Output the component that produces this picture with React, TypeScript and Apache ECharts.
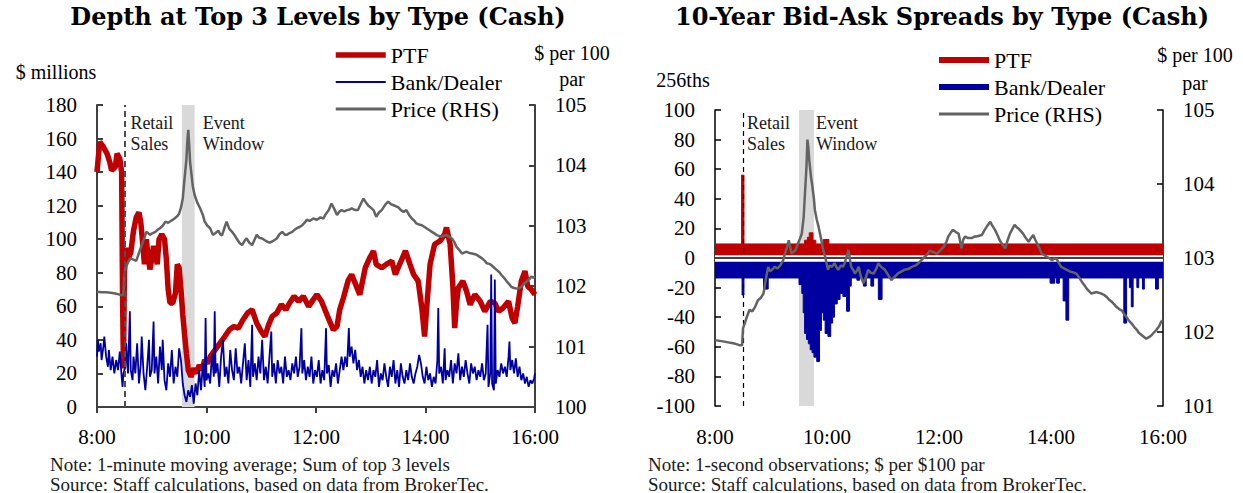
import React, { useEffect, useRef } from 'react';
import * as echarts from 'echarts';

// x values are minutes after 8:00
const xTickLabels = ['8:00', '10:00', '12:00', '14:00', '16:00'];
const retailSalesMinute = 30;
const eventWindowLeft = [93, 107];
const eventWindowRight = [90, 106];

// Left chart: Depth at top 3 levels ($ millions)
const ptfDepth: [number, number][] = [
  [0,140],[3,158],[7,155],[11,151],[14,146],[16,141],[20,143],[22,151],[25,148],[27,140],[28,67],[29,23],[30,80],[32,95],[34,88],[37,92],[40,105],[43,113],[46,116],[48,110],[50,98],[52,85],[54,100],[56,90],[58,82],[60,88],[62,96],[64,92],[66,85],[68,100],[71,103],[74,100],[76,88],[78,70],[80,62],[83,62],[86,68],[88,85],[90,83],[92,70],[94,55],[96,43],[98,32],[100,22],[103,18],[106,23],[109,20],[112,25],[115,22],[118,28],[121,26],[124,30],[128,33],[132,36],[136,39],[140,42],[145,46],[150,48],[155,47],[160,52],[165,56],[170,58],[175,50],[180,45],[184,42],[188,49],[192,54],[197,56],[202,61],[207,58],[211,62],[216,66],[221,63],[226,66],[232,60],[237,64],[241,67],[246,63],[252,55],[255,51],[259,46],[263,48],[266,58],[270,65],[275,75],[279,79],[285,71],[288,67],[294,83],[299,89],[303,93],[306,85],[312,83],[317,85],[323,87],[327,79],[330,83],[338,93],[343,85],[347,79],[352,75],[356,59],[359,42],[361,57],[365,85],[370,97],[376,99],[381,103],[383,107],[387,97],[390,72],[392,47],[394,62],[396,71],[401,75],[405,69],[409,61],[414,67],[420,63],[425,57],[431,63],[436,62],[440,57],[445,59],[451,63],[455,53],[458,50],[461,60],[465,75],[469,81],[472,72],[476,70],[480,67]
];
const bankDepth: [number, number][] = [
  [0,30],[1,40],[2,33],[4,38],[5,28],[7,36],[8,42],[10,30],[12,24],[13,34],[15,22],[17,30],[19,20],[21,28],[23,22],[25,33],[27,18],[28,12],[29,20],[31,24],[32,38],[34,20],[36,57],[37,22],[39,16],[40,30],[42,20],[44,38],[46,14],[48,26],[49,42],[51,20],[53,10],[55,24],[57,40],[58,18],[60,22],[62,51],[63,20],[65,30],[67,14],[69,36],[71,22],[72,40],[74,16],[76,10],[78,26],[80,18],[82,34],[84,14],[86,24],[88,18],[90,35],[92,28],[94,14],[96,7],[98,3],[100,10],[102,6],[104,13],[106,2],[108,14],[110,7],[112,22],[114,10],[116,26],[118,12],[119,53],[120,16],[122,20],[124,14],[126,32],[128,18],[129,57],[130,20],[132,26],[134,12],[136,30],[138,40],[140,18],[142,24],[144,14],[146,34],[148,22],[150,16],[152,35],[154,20],[156,24],[158,14],[160,26],[162,38],[164,16],[166,28],[168,12],[170,49],[171,18],[173,26],[175,16],[177,30],[179,20],[181,40],[183,16],[185,24],[187,14],[189,30],[191,45],[192,18],[194,26],[196,14],[198,28],[200,20],[202,24],[204,14],[206,30],[208,18],[210,22],[212,16],[214,26],[216,20],[218,30],[220,18],[222,24],[224,47],[225,20],[227,28],[229,16],[231,24],[233,18],[235,30],[237,14],[239,22],[241,18],[243,28],[245,14],[247,22],[249,16],[251,47],[252,20],[254,25],[256,12],[258,22],[260,18],[262,26],[264,14],[266,22],[268,30],[270,22],[272,30],[274,24],[276,47],[277,30],[279,36],[281,26],[283,34],[285,22],[287,28],[289,18],[291,24],[293,14],[295,22],[297,16],[299,24],[301,14],[303,22],[305,18],[307,28],[309,12],[311,20],[313,16],[315,26],[317,18],[319,12],[321,24],[323,18],[325,28],[327,14],[329,22],[331,12],[333,26],[335,18],[337,14],[339,22],[341,16],[343,26],[345,18],[347,14],[349,20],[351,24],[353,31],[355,26],[357,18],[359,14],[361,24],[363,16],[365,20],[367,12],[369,18],[371,14],[373,28],[374,59],[375,20],[377,24],[379,14],[381,35],[382,16],[384,22],[386,18],[388,28],[390,14],[392,26],[394,20],[396,32],[398,16],[400,24],[402,18],[404,28],[406,20],[408,14],[410,26],[412,20],[414,24],[416,16],[418,22],[420,18],[422,26],[424,16],[426,20],[428,49],[429,12],[431,20],[432,79],[433,14],[435,10],[436,76],[437,14],[439,22],[441,18],[443,26],[445,20],[447,24],[449,18],[451,30],[452,39],[453,22],[455,28],[457,20],[459,29],[461,18],[463,24],[465,16],[467,20],[469,14],[471,18],[473,12],[475,16],[477,14],[479,17],[480,20]
];
const priceLeft: [number, number][] = [
  [0,101.91],[5,101.9],[10,101.9],[15,101.89],[20,101.88],[25,101.86],[28,101.85],[29,101.87],[30,102.15],[31,102.3],[33,102.36],[36,102.46],[40,102.44],[43,102.42],[46,102.55],[49,102.68],[52,102.8],[54,102.9],[56,102.88],[58,102.85],[61,102.88],[64,102.9],[67,102.94],[69,102.96],[72,103.0],[75,103.07],[78,103.05],[80,103.07],[83,103.1],[85,103.12],[88,103.16],[90,103.2],[92,103.3],[94,103.45],[96,103.79],[98,104.1],[99,104.4],[100,104.59],[101,104.35],[102,104.06],[104,103.79],[105,103.65],[107,103.51],[110,103.38],[113,103.29],[116,103.18],[118,103.07],[121,103.0],[124,102.96],[127,102.85],[130,102.88],[133,102.92],[135,102.86],[137,102.84],[140,102.98],[142,103.07],[145,102.95],[148,102.9],[151,102.84],[153,102.79],[156,102.72],[159,102.68],[162,102.76],[164,102.79],[167,102.72],[170,102.68],[173,102.78],[175,102.85],[178,102.8],[181,102.79],[184,102.76],[186,102.74],[189,102.72],[192,102.74],[195,102.77],[197,102.79],[200,102.86],[203,102.9],[206,102.85],[208,102.85],[211,102.88],[214,102.9],[217,102.94],[219,102.96],[222,102.98],[225,103.01],[228,103.06],[230,103.1],[233,103.08],[237,103.12],[241,103.1],[245,103.14],[248,103.12],[251,103.2],[254,103.26],[257,103.37],[260,103.28],[263,103.18],[266,103.24],[268,103.26],[271,103.24],[274,103.26],[277,103.27],[279,103.29],[283,103.26],[286,103.26],[289,103.36],[292,103.45],[295,103.38],[297,103.34],[300,103.3],[303,103.26],[306,103.15],[309,103.22],[312,103.26],[316,103.35],[319,103.4],[322,103.36],[325,103.34],[328,103.32],[330,103.31],[333,103.26],[336,103.23],[339,103.26],[342,103.18],[345,103.12],[348,103.08],[350,103.04],[353,103.02],[356,103.01],[359,102.98],[361,102.96],[364,102.93],[367,102.9],[370,102.87],[372,102.85],[375,102.83],[378,102.82],[381,102.84],[383,102.85],[386,102.82],[389,102.79],[392,102.72],[394,102.65],[397,102.6],[400,102.54],[403,102.56],[405,102.57],[408,102.55],[411,102.54],[414,102.53],[416,102.52],[419,102.49],[422,102.46],[425,102.42],[427,102.38],[430,102.37],[432,102.35],[435,102.31],[438,102.27],[441,102.23],[443,102.19],[446,102.14],[449,102.08],[452,102.03],[454,101.99],[457,101.97],[460,101.96],[463,101.97],[465,101.99],[468,102.04],[471,102.08],[474,102.12],[476,102.16],[478,102.14],[480,102.16]
];

// Right chart: 10-year bid-ask spreads (256ths), each point holds until the next
const ptfSpread: [number, number][] = [
  [0,9.5],[28.5,56],[31,9.5],[96,12],[99,14],[101,17],[105,12],[108,9.5],[116,12.5],[122,9.5],[480,9.5]
];
const bankSpread: [number, number][] = [
  [0,-13.5],[29,-25],[31,-13.5],[52,-21],[57,-13.5],[90,-18],[93,-24],[94.5,-37],[96,-51],[98,-55],[100,-58],[102,-62],[104,-64],[106,-67],[109,-70],[112,-49],[114,-37],[116,-42],[118,-51],[121,-53],[124,-44],[126,-40],[128,-31],[131,-28],[134,-24],[137,-26],[141,-36],[144,-19],[146,-13.5],[152,-15],[155,-13.5],[159,-19],[162,-13.5],[167,-19],[170,-13.5],[175,-28],[179,-13.5],[359,-17],[364,-13.5],[366,-17],[369,-13.5],[373,-29],[376,-42],[379,-13.5],[438,-44],[441,-13.5],[444,-20],[446,-33],[448,-13.5],[452,-20],[454,-13.5],[458,-21],[460,-13.5],[472,-21],[475,-13.5],[480,-13.5]
];
const priceRight: [number, number][] = [
  [0,101.89],[5,101.88],[10,101.87],[14,101.86],[18,101.85],[22,101.84],[27,101.82],[29,101.82],[30,102.05],[32,102.12],[34,102.2],[37,102.3],[40,102.28],[43,102.34],[46,102.43],[49,102.46],[52,102.52],[54,102.68],[57,102.88],[59,102.82],[61,102.84],[64,102.88],[67,102.86],[70,102.9],[73,102.97],[75,103.06],[77,103.14],[79,103.24],[82,103.06],[84,103.08],[86,103.1],[89,103.2],[91,103.26],[93,103.33],[95,103.55],[96,103.78],[98,104.23],[99,104.6],[100,104.5],[101,104.32],[103,104.08],[104,104.0],[106,103.8],[107,103.65],[109,103.52],[111,103.42],[114,103.24],[116,103.1],[118,103.02],[121,102.84],[123,102.9],[125,102.88],[128,102.93],[130,102.88],[132,102.84],[135,102.9],[137,102.88],[139,102.93],[141,103.02],[143,103.11],[145,102.95],[146,102.88],[148,102.84],[150,102.79],[152,102.83],[154,102.88],[156,102.76],[159,102.66],[162,102.75],[164,102.84],[167,102.8],[170,102.79],[173,102.86],[175,102.93],[178,102.88],[182,102.84],[185,102.78],[189,102.7],[192,102.74],[196,102.79],[200,102.82],[203,102.84],[207,102.85],[211,102.88],[215,102.9],[218,102.93],[222,102.98],[225,103.02],[228,103.06],[230,103.1],[234,103.08],[238,103.06],[241,103.1],[245,103.15],[248,103.22],[250,103.29],[253,103.35],[255,103.38],[258,103.35],[261,103.33],[263,103.2],[264,103.13],[266,103.25],[268,103.29],[271,103.27],[275,103.27],[278,103.29],[280,103.29],[283,103.3],[286,103.31],[288,103.36],[289,103.38],[292,103.44],[295,103.49],[297,103.44],[300,103.38],[303,103.3],[305,103.24],[308,103.18],[311,103.13],[313,103.22],[316,103.33],[319,103.4],[321,103.45],[323,103.42],[325,103.4],[328,103.36],[330,103.33],[333,103.27],[336,103.22],[338,103.26],[341,103.31],[343,103.25],[345,103.2],[348,103.12],[350,103.06],[353,103.04],[355,103.02],[358,103.0],[361,102.97],[363,102.99],[366,102.99],[368,102.94],[371,102.88],[374,102.86],[377,102.84],[380,102.82],[382,102.81],[385,102.8],[387,102.79],[390,102.74],[393,102.68],[396,102.63],[398,102.59],[401,102.55],[403,102.52],[406,102.53],[409,102.54],[411,102.53],[414,102.52],[417,102.5],[420,102.47],[422,102.44],[425,102.41],[428,102.37],[430,102.34],[433,102.31],[436,102.29],[438,102.25],[441,102.2],[443,102.16],[446,102.12],[449,102.07],[452,102.03],[454,101.99],[457,101.96],[460,101.93],[462,101.91],[465,101.93],[468,101.96],[470,101.99],[473,102.03],[476,102.08],[478,102.14],[480,102.16]
];

const SERIF = '"Liberation Serif", "Times New Roman", serif';
const RED = '#C00000';
const BLUE = '#0000A0';
const GRAY = '#636363';
const BAND = '#D9D9D9';

function annot(text: string, pos: [number, number]) {
  return {
    show: true,
    formatter: text,
    position: pos,
    fontFamily: SERIF,
    fontSize: 18,
    lineHeight: 21,
    color: '#1a1a1a',
    align: 'left',
    verticalAlign: 'top',
  };
}

function buildOption(): any {
  const tickFont = { fontFamily: SERIF, fontSize: 21, color: '#000' };
  const xAxisBase = (gridIndex: number, showLine: boolean, color: string, width: number) => ({
    gridIndex,
    type: 'value',
    min: 0,
    max: 480,
    interval: 120,
    axisLine: { show: showLine, onZero: false, lineStyle: { color, width } },
    axisTick: { show: showLine, inside: false, length: 6, lineStyle: { color, width } },
    axisLabel: { ...tickFont, margin: 19, formatter: (v: number) => xTickLabels[Math.round(v / 120)] },
    splitLine: { show: false },
  });
  const yAxisBase = (gridIndex: number, position: string, min: number, max: number, interval: number, color: string, width: number) => ({
    gridIndex,
    type: 'value',
    position,
    min,
    max,
    interval,
    axisLine: { show: true, onZero: false, lineStyle: { color, width } },
    axisTick: { show: true, inside: true, length: 6, lineStyle: { color, width } },
    axisLabel: { ...tickFont, margin: 20 },
    splitLine: { show: false },
    nameLocation: 'end',
  });
  const legendBase = (left: number, top: number, widths: number[], itemWidth: number) => ({
    orient: 'vertical',
    left,
    top,
    padding: 0,
    itemWidth,
    itemHeight: 14,
    itemGap: 3,
    selectedMode: false,
    textStyle: { fontFamily: SERIF, fontSize: 22, color: '#000', lineHeight: 24 },
    data: [
      { name: 'PTF', lineStyle: { width: widths[0], color: RED }, itemStyle: { opacity: 0 } },
      { name: 'Bank/Dealer', lineStyle: { width: widths[1], color: BLUE }, itemStyle: { opacity: 0 } },
      { name: 'Price (RHS)', lineStyle: { width: widths[2], color: GRAY }, itemStyle: { opacity: 0 } },
    ],
  });
  const titleFont = { fontFamily: '"DejaVu Serif", serif', fontWeight: 'bold', fontSize: 24, color: '#000' };
  const noteFont = { fontFamily: SERIF, fontWeight: 'normal', fontSize: 19, lineHeight: 20, color: '#1a1a1a' };

  return {
    animation: false,
    backgroundColor: '#fff',
    title: [
      { text: 'Depth at Top 3 Levels by Type (Cash)', left: 318, top: 4, padding: 0, textAlign: 'center', textStyle: titleFont },
      { text: '10-Year Bid-Ask Spreads by Type (Cash)', left: 942, top: 4, padding: 0, textAlign: 'center', textStyle: titleFont },
      { text: 'Note: 1-minute moving average; Sum of top 3 levels\nSource: Staff calculations, based on data from BrokerTec.', left: 50, top: 454, padding: 0, textStyle: noteFont },
      { text: 'Note: 1-second observations; $ per $100 par\nSource: Staff calculations, based on data from BrokerTec.', left: 648, top: 454, padding: 0, textStyle: noteFont },
    ],
    legend: [legendBase(333, 43, [5.5, 2, 3], 50), legendBase(936, 48, [6, 6, 3], 50)],
    grid: [
      { left: 97, right: 708, top: 105, bottom: 86 },
      { left: 715, right: 80, top: 110, bottom: 87 },
    ],
    xAxis: [
      xAxisBase(0, true, '#404040', 2),
      { ...xAxisBase(1, false, '#000', 1.5), axisLabel: { ...tickFont, margin: 20, formatter: (v: number) => xTickLabels[Math.round(v / 120)] } },
    ],
    yAxis: [
      { ...yAxisBase(0, 'left', 0, 180, 20, '#404040', 2), name: '$ millions', nameGap: 23, nameTextStyle: { fontFamily: SERIF, fontSize: 20, color: '#000', padding: [0, 82, 0, 0] } },
      { ...yAxisBase(0, 'right', 100, 105, 1, '#404040', 2), name: '$ per 100\npar', nameGap: 13, nameTextStyle: { fontFamily: SERIF, fontSize: 20, color: '#000', lineHeight: 26, align: 'center', padding: [0, 0, 0, 74] } },
      { ...yAxisBase(1, 'left', -100, 100, 20, '#000', 1.5), name: '256ths', nameGap: 20, nameTextStyle: { fontFamily: SERIF, fontSize: 20, color: '#000', padding: [0, 64, 0, 0] } },
      { ...yAxisBase(1, 'right', 101, 105, 1, '#000', 1.5), name: '$ per 100\npar', nameGap: 13, nameTextStyle: { fontFamily: SERIF, fontSize: 20, color: '#000', lineHeight: 28, align: 'center', padding: [0, 0, 0, 64] } },
    ],
    series: [
      {
        name: 'PTF', type: 'line', xAxisIndex: 0, yAxisIndex: 0, data: ptfDepth, symbol: 'none', showSymbol: false,
        lineStyle: { color: RED, width: 5.5 }, itemStyle: { color: RED }, z: 2,
        markArea: {
          silent: true,
          data: [
            [{ xAxis: eventWindowLeft[0], itemStyle: { color: BAND }, label: annot('Event\nWindow', [21, 7]) }, { xAxis: eventWindowLeft[1] }],
            [{ xAxis: retailSalesMinute, itemStyle: { color: 'rgba(0,0,0,0)' }, label: annot('Retail\nSales', [6, 7]) }, { xAxis: retailSalesMinute }],
          ],
        },
        markLine: {
          silent: true, symbol: ['none', 'none'], label: { show: false },
          lineStyle: { type: [6, 4], color: '#505050', width: 2 },
          data: [{ xAxis: retailSalesMinute }],
        },
      },
      {
        name: 'Bank/Dealer', type: 'line', xAxisIndex: 0, yAxisIndex: 0, data: bankDepth, symbol: 'none', showSymbol: false,
        lineStyle: { color: BLUE, width: 1.8 }, itemStyle: { color: BLUE }, z: 3,
      },
      {
        name: 'Price (RHS)', type: 'line', xAxisIndex: 0, yAxisIndex: 1, data: priceLeft, symbol: 'none', showSymbol: false,
        lineStyle: { color: GRAY, width: 2.5 }, itemStyle: { color: GRAY }, z: 4,
      },
      {
        name: 'PTF', type: 'line', step: 'end', xAxisIndex: 1, yAxisIndex: 2, data: ptfSpread, symbol: 'none', showSymbol: false,
        lineStyle: { color: RED, width: 1 }, itemStyle: { color: RED }, areaStyle: { color: RED, opacity: 1 }, z: 2,
        markArea: {
          silent: true,
          data: [
            [{ xAxis: eventWindowRight[0], itemStyle: { color: BAND }, label: annot('Event\nWindow', [17, 2]) }, { xAxis: eventWindowRight[1] }],
            [{ xAxis: retailSalesMinute, itemStyle: { color: 'rgba(0,0,0,0)' }, label: annot('Retail\nSales', [4, 2]) }, { xAxis: retailSalesMinute }],
          ],
        },
        markLine: {
          silent: true, symbol: ['none', 'none'], label: { show: false },
          lineStyle: { type: [5, 4], color: '#000', width: 1.2 },
          data: [{ xAxis: retailSalesMinute }],
        },
      },
      {
        name: 'Bank/Dealer', type: 'line', step: 'end', xAxisIndex: 1, yAxisIndex: 2, data: bankSpread, symbol: 'none', showSymbol: false,
        lineStyle: { color: BLUE, width: 1 }, itemStyle: { color: BLUE }, areaStyle: { color: BLUE, opacity: 1 }, z: 2,
        markLine: {
          silent: true, symbol: ['none', 'none'], label: { show: false },
          data: [
            { yAxis: 0, lineStyle: { type: 'solid', color: '#fff', width: 6.5 } },
            { yAxis: 0, lineStyle: { type: 'solid', color: '#000', width: 1.6 } },
          ],
        },
      },
      {
        name: 'Price (RHS)', type: 'line', xAxisIndex: 1, yAxisIndex: 3, data: priceRight, symbol: 'none', showSymbol: false,
        lineStyle: { color: GRAY, width: 2.5 }, itemStyle: { color: GRAY }, z: 10,
      },
    ],
  };
}

export default function App() {
  const ref = useRef<HTMLDivElement>(null);
  useEffect(() => {
    if (!ref.current) return;
    const chart = echarts.init(ref.current, undefined, { renderer: 'svg' });
    chart.setOption(buildOption());
    return () => chart.dispose();
  }, []);
  return (
    <div
      ref={ref}
      style={{ position: 'fixed', left: 0, top: 0, width: 1243, height: 493, background: '#fff' }}
    />
  );
}
